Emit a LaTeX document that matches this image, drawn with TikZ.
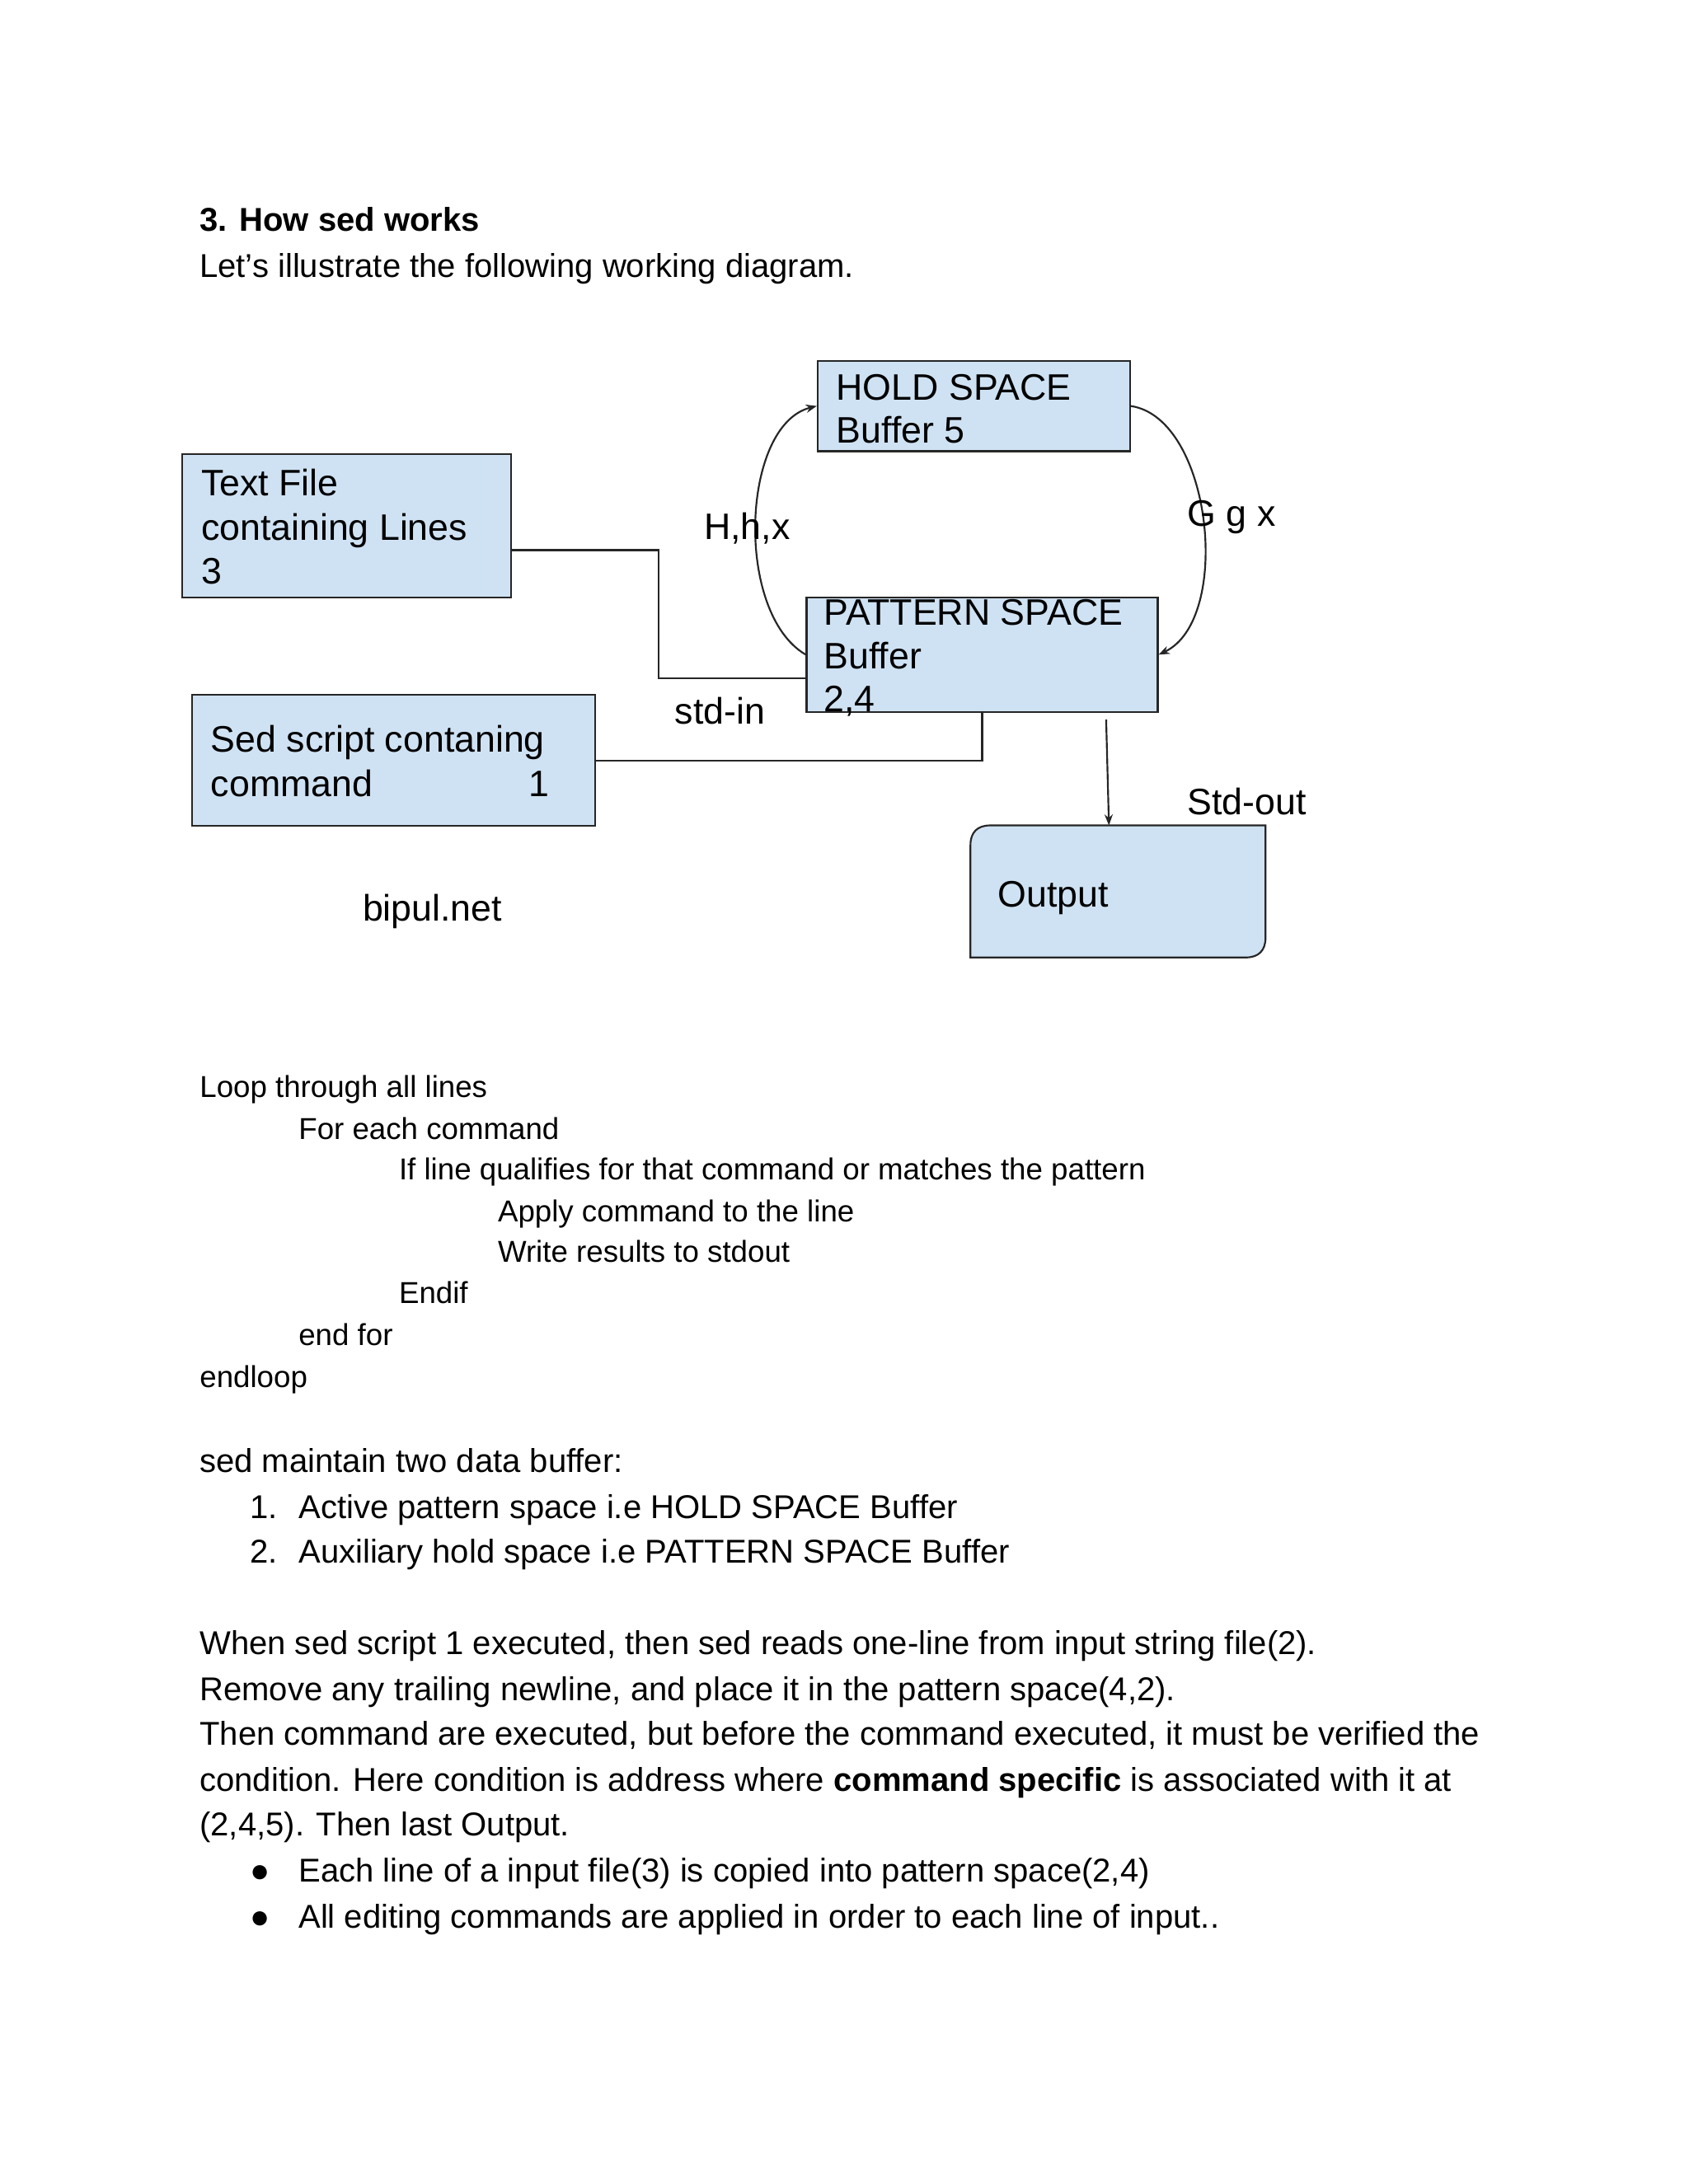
\documentclass[tikz,border=0pt]{standalone}
\usepackage{fontspec}
\setmainfont{Liberation Sans}
\usetikzlibrary{arrows.meta,fit,calc}
\definecolor{bufblue}{HTML}{CFE2F3}

\begin{document}
\begin{tikzpicture}[x=0.017814cm, y=-0.017814cm,
    buf/.style={draw=black!85, fill=bufblue, line width=0.65pt, inner sep=0pt},
    lbl/.style={anchor=base west, inner sep=0pt, font=\fontsize{13.4}{16}\selectfont},
    para/.style={anchor=base west, inner sep=0pt, font=\fontsize{12}{14}\selectfont},
    code/.style={anchor=base west, inner sep=0pt, font=\fontsize{11}{13}\selectfont},
    link/.style={draw=black!85, line width=0.65pt},
    arrow/.style={link, -{Stealth[length=4pt,width=3pt]}}
]
    \useasboundingbox (0,0) rectangle (1212,1568);

    % heading
    \node[para, font=\bfseries\fontsize{12}{14}\selectfont] (title) at (143,166) {3. How sed works};
    \node[para] (intro) at (143,199) {Let’s illustrate the following working diagram.};

    % buffers
    \node[buf, fit={(587,259) (811,324)}] (hold) {};
    \node[buf, fit={(131,326) (367,429)}] (file) {};
    \node[buf, fit={(579,429) (831,511)}] (pat) {};
    \node[buf, fit={(138,499) (427,593)}] (script) {};
    \node[inner sep=0pt, fit={(697,593) (908,687)}] (out) {};
    \filldraw[buf] (out.south west) -- ($(out.north west)+(0,14)$)
        .. controls ($(out.north west)+(0,5)$) and ($(out.north west)+(5,0)$) .. ($(out.north west)+(14,0)$)
        -- (out.north east) -- ($(out.south east)+(0,-14)$)
        .. controls ($(out.south east)+(0,-5)$) and ($(out.south east)+(-5,0)$) .. ($(out.south east)+(-14,0)$) -- cycle;

    \node[lbl] (hold1) at (600,287) {HOLD SPACE};
    \node[lbl] (hold2) at (600,318) {Buffer 5};
    \node[lbl] (file1) at (144,356) {Text File};
    \node[lbl] (file2) at (144,388) {containing Lines};
    \node[lbl] (file3) at (144,419) {3};
    \node[lbl] (pat1) at (591,449) {PATTERN SPACE};
    \node[lbl] (pat2) at (591,480) {Buffer};
    \node[lbl] (pat3) at (591,511) {2,4};
    \node[lbl] (script1) at (151,540) {Sed script contaning};
    \node[lbl] (script2) at (151,572) {command};
    \node[lbl] (script3) at (379,572) {1};
    \node[lbl] (out1) at (716,651) {Output};

    % connectors
    \draw[link] (file.east |- 0,395) -| (473,487) -- (pat.west |- 0,487);
    \draw[link] (script.east) -| (pat.south);
    \draw[arrow] (pat.west) .. controls (527,440) and (532,305) .. (hold.west);
    \draw[arrow] (hold.east) .. controls (870,300) and (885,445) .. (pat.east);
    \draw[arrow] (pat.south -| 794,0) ++(0,5) -- (out.north -| 796,0);

    \node[lbl] (stdin) at (484,520) {std-in};
    \node[lbl] (stdout) at (852,585) {Std-out};
    \node[lbl] (hhx) at (505,387) {H,h,x};
    \node[lbl] (ggx) at (852,378) {G g x};
    \node[lbl] (site) at (260,661) {bipul.net};

    % pseudo code
    \node[code] (c1) at (143,788) {Loop through all lines};
    \node[code] (c2) at (214,818) {For each command};
    \node[code] (c3) at (286,847) {If line qualifies for that command or matches the pattern};
    \node[code] (c4) at (357,877) {Apply command to the line};
    \node[code] (c5) at (357,906) {Write results to stdout};
    \node[code] (c6) at (286,936) {Endif};
    \node[code] (c7) at (214,966) {end for};
    \node[code] (c8) at (143,996) {endloop};

    % explanation
    \node[para] (p1) at (143,1057) {sed maintain two data buffer:};
    \node[para] (n1) at (179,1090) {1.};
    \node[para] (p2) at (214,1090) {Active pattern space i.e HOLD SPACE Buffer};
    \node[para] (n2) at (179,1122) {2.};
    \node[para] (p3) at (214,1122) {Auxiliary hold space i.e PATTERN SPACE Buffer};
    \node[para] (p4) at (143,1188) {When sed script 1 executed, then sed reads one-line from input string file(2).};
    \node[para] (p5) at (143,1221) {Remove any trailing newline, and place it in the pattern space(4,2).};
    \node[para] (p6) at (143,1253) {Then command are executed, but before the command executed, it must be verified the};
    \node[para] (p7) at (143,1286) {condition. Here condition is address where \textbf{command specific} is associated with it at};
    \node[para] (p8) at (143,1318) {(2,4,5). Then last Output.};
    \node[para] (b1) at (179,1351) {●};
    \node[para] (p9) at (214,1351) {Each line of a input file(3) is copied into pattern space(2,4)};
    \node[para] (b2) at (179,1384) {●};
    \node[para] (p10) at (214,1384) {All editing commands are applied in order to each line of input..};
\end{tikzpicture}
\end{document}
